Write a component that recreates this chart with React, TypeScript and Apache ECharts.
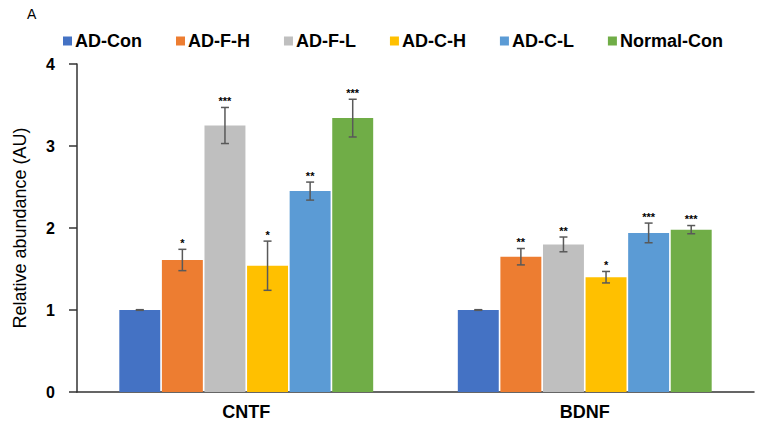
import React, { useEffect, useRef } from "react";
import * as echarts from "echarts";

const categories = ["CNTF", "BDNF"];
const seriesNames = ["AD-Con", "AD-F-H", "AD-F-L", "AD-C-H", "AD-C-L", "Normal-Con"];
const colors = ["#4472C4", "#ED7D31", "#BFBFBF", "#FFC000", "#5B9BD5", "#70AD47"];

const adConMeans = [1.0, 1.0];
const adFHMeans = [1.61, 1.65];
const adFLMeans = [3.25, 1.8];
const adCHMeans = [1.54, 1.4];
const adCLMeans = [2.45, 1.94];
const normalConMeans = [3.34, 1.98];

const adConErr = [0.004, 0.004];
const adFHErr = [0.13, 0.1];
const adFLErr = [0.22, 0.09];
const adCHErr = [0.3, 0.07];
const adCLErr = [0.11, 0.12];
const normalConErr = [0.23, 0.05];

const adConStars = ["", ""];
const adFHStars = ["*", "**"];
const adFLStars = ["***", "**"];
const adCHStars = ["*", "*"];
const adCLStars = ["**", "***"];
const normalConStars = ["***", "***"];

const yTicks = [0, 1, 2, 3, 4];

const FONT = "'Liberation Sans', Arial, sans-serif";
const CAT_GAP = 0.25;
const BAR_GAP = 0.04;

export default function App() {
  const ref = useRef<HTMLDivElement>(null);
  useEffect(() => {
    if (!ref.current) return;
    const chart = echarts.init(ref.current, null, { renderer: "svg" });
    const means = [adConMeans, adFHMeans, adFLMeans, adCHMeans, adCLMeans, normalConMeans];
    const errs = [adConErr, adFHErr, adFLErr, adCHErr, adCLErr, normalConErr];
    const stars = [adConStars, adFHStars, adFLStars, adCHStars, adCLStars, normalConStars];
    const n = seriesNames.length;

    const errData: any[] = [];
    const errStars: string[] = [];
    for (let s = 0; s < n; s++) {
      for (let c = 0; c < categories.length; c++) {
        errData.push([c, s, means[s][c], errs[s][c]]);
        errStars.push(stars[s][c]);
      }
    }

    const barSeries = seriesNames.map((name, i) => ({
      name,
      type: "bar",
      data: means[i],
      itemStyle: { color: colors[i] },
      barCategoryGap: "25%",
      barGap: "4%",
    }));

    const errSeries = {
      type: "custom",
      name: "err",
      data: errData,
      encode: { x: 0, y: 2 },
      z: 10,
      renderItem: (params: any, api: any) => {
        const c = api.value(0);
        const s = api.value(1);
        const m = api.value(2);
        const e = api.value(3);
        const band = api.size([1, 0])[0];
        const groupW = band * (1 - CAT_GAP);
        const barW = groupW / (n + (n - 1) * BAR_GAP);
        const cx = api.coord([c, 0])[0] - groupW / 2 + s * barW * (1 + BAR_GAP) + barW / 2;
        const yTop = api.coord([c, m + e])[1];
        const yBot = api.coord([c, m - e])[1];
        const st = { stroke: "#595959", lineWidth: 1.5 };
        const children: any[] = [
          { type: "line", shape: { x1: cx, y1: yTop, x2: cx, y2: yBot }, style: st },
          { type: "line", shape: { x1: cx - 4, y1: yTop, x2: cx + 4, y2: yTop }, style: st },
          { type: "line", shape: { x1: cx - 4, y1: yBot, x2: cx + 4, y2: yBot }, style: st },
        ];
        const label = errStars[params.dataIndex];
        if (label) {
          children.push({
            type: "text",
            x: cx,
            y: yTop - 1,
            style: {
              text: label,
              fill: "#000",
              font: `bold 11px ${FONT}`,
              textAlign: "center",
              textVerticalAlign: "bottom",
            },
          });
        }
        return { type: "group", children };
      },
    };

    chart.setOption({
      animation: false,
      textStyle: { fontFamily: FONT },
      graphic: [
        {
          type: "text",
          left: 27,
          top: 7,
          style: { text: "A", fill: "#000", font: `14px ${FONT}` },
        },
      ],
      legend: {
        data: seriesNames,
        left: 58,
        top: 27,
        icon: "rect",
        itemWidth: 9,
        itemHeight: 9,
        itemGap: 34,
        textStyle: { fontSize: 18, fontWeight: "bold", color: "#000", fontFamily: FONT, padding: [0, 0, 0, -2] },
      },
      grid: { left: 77, right: 10, top: 64, bottom: 33, containLabel: false },
      xAxis: {
        type: "category",
        data: categories,
        axisLine: { lineStyle: { color: "#333", width: 1.5 } },
        axisTick: { show: false },
        axisLabel: { fontSize: 18, fontWeight: "bold", color: "#000", margin: 11, fontFamily: FONT },
      },
      yAxis: {
        type: "value",
        min: yTicks[0],
        max: yTicks[yTicks.length - 1],
        interval: 1,
        name: "Relative abundance (AU)",
        nameLocation: "middle",
        nameGap: 48,
        nameTextStyle: { fontSize: 18, color: "#000", fontFamily: FONT },
        axisLine: { show: true, lineStyle: { color: "#333", width: 1.5 } },
        axisTick: { show: true, length: 8, lineStyle: { color: "#333", width: 1.5 } },
        axisLabel: { fontSize: 16, fontWeight: "bold", color: "#000", margin: 22, fontFamily: FONT },
        splitLine: { show: false },
      },
      series: [...barSeries, errSeries],
    });
    return () => chart.dispose();
  }, []);
  return (
    <div
      ref={ref}
      style={{ position: "fixed", left: 0, top: 0, width: 764, height: 425, background: "#fff" }}
    />
  );
}
